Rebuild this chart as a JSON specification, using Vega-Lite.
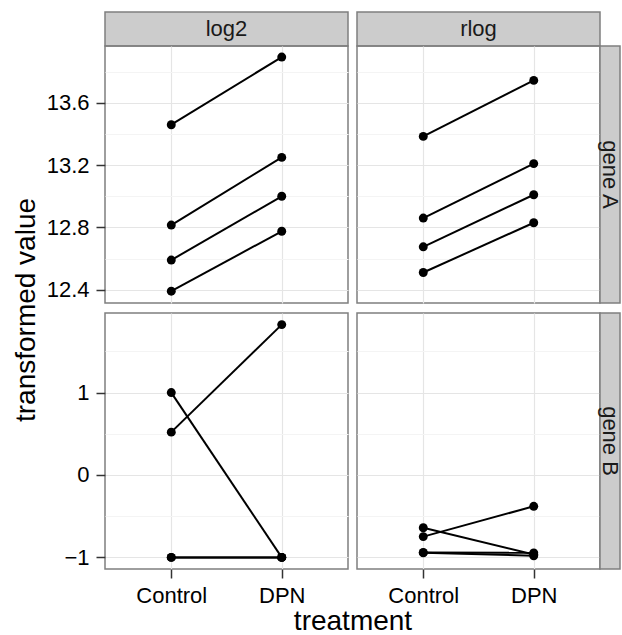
{
  "$schema": "https://vega.github.io/schema/vega-lite/v6.json",
  "autosize": {"type": "pad"},
  "padding": {"left": 11, "top": 11, "right": 3, "bottom": 0},
  "background": "white",
  "config": {
    "font": "Liberation Sans",
    "view": {"stroke": "#7f7f7f", "strokeWidth": 1.5},
    "axis": {
      "labelFont": "Liberation Sans", "labelFontSize": 22, "labelColor": "#000000", "labelPadding": 7,
      "tickSize": 9, "tickColor": "#333333", "tickWidth": 1.5, "domain": false,
      "gridColor": "#e5e5e5", "gridWidth": 1.2,
      "titleFont": "Liberation Sans", "titleFontSize": 28, "titleFontWeight": "normal", "titleColor": "#000000"
    }
  },
  "datasets": {
    "d": [
      {"gene": "gene A", "method": "log2", "sample": "s1", "treatment": "Control", "value": 13.46},
      {"gene": "gene A", "method": "log2", "sample": "s1", "treatment": "DPN", "value": 13.895},
      {"gene": "gene A", "method": "log2", "sample": "s2", "treatment": "Control", "value": 12.815},
      {"gene": "gene A", "method": "log2", "sample": "s2", "treatment": "DPN", "value": 13.25},
      {"gene": "gene A", "method": "log2", "sample": "s3", "treatment": "Control", "value": 12.59},
      {"gene": "gene A", "method": "log2", "sample": "s3", "treatment": "DPN", "value": 13.0},
      {"gene": "gene A", "method": "log2", "sample": "s4", "treatment": "Control", "value": 12.39},
      {"gene": "gene A", "method": "log2", "sample": "s4", "treatment": "DPN", "value": 12.775},
      {"gene": "gene A", "method": "rlog", "sample": "s1", "treatment": "Control", "value": 13.385},
      {"gene": "gene A", "method": "rlog", "sample": "s1", "treatment": "DPN", "value": 13.745},
      {"gene": "gene A", "method": "rlog", "sample": "s2", "treatment": "Control", "value": 12.86},
      {"gene": "gene A", "method": "rlog", "sample": "s2", "treatment": "DPN", "value": 13.21},
      {"gene": "gene A", "method": "rlog", "sample": "s3", "treatment": "Control", "value": 12.675},
      {"gene": "gene A", "method": "rlog", "sample": "s3", "treatment": "DPN", "value": 13.01},
      {"gene": "gene A", "method": "rlog", "sample": "s4", "treatment": "Control", "value": 12.51},
      {"gene": "gene A", "method": "rlog", "sample": "s4", "treatment": "DPN", "value": 12.83},
      {"gene": "gene B", "method": "log2", "sample": "s1", "treatment": "Control", "value": 0.52},
      {"gene": "gene B", "method": "log2", "sample": "s1", "treatment": "DPN", "value": 1.825},
      {"gene": "gene B", "method": "log2", "sample": "s2", "treatment": "Control", "value": 1.0},
      {"gene": "gene B", "method": "log2", "sample": "s2", "treatment": "DPN", "value": -1.0},
      {"gene": "gene B", "method": "log2", "sample": "s3", "treatment": "Control", "value": -1.0},
      {"gene": "gene B", "method": "log2", "sample": "s3", "treatment": "DPN", "value": -1.0},
      {"gene": "gene B", "method": "log2", "sample": "s4", "treatment": "Control", "value": -1.0},
      {"gene": "gene B", "method": "log2", "sample": "s4", "treatment": "DPN", "value": -1.0},
      {"gene": "gene B", "method": "rlog", "sample": "s1", "treatment": "Control", "value": -0.748},
      {"gene": "gene B", "method": "rlog", "sample": "s1", "treatment": "DPN", "value": -0.38},
      {"gene": "gene B", "method": "rlog", "sample": "s2", "treatment": "Control", "value": -0.64},
      {"gene": "gene B", "method": "rlog", "sample": "s2", "treatment": "DPN", "value": -0.965},
      {"gene": "gene B", "method": "rlog", "sample": "s3", "treatment": "Control", "value": -0.94},
      {"gene": "gene B", "method": "rlog", "sample": "s3", "treatment": "DPN", "value": -0.945},
      {"gene": "gene B", "method": "rlog", "sample": "s4", "treatment": "Control", "value": -0.945},
      {"gene": "gene B", "method": "rlog", "sample": "s4", "treatment": "DPN", "value": -0.98}
    ]
  },
  "columns": 4,
  "spacing": 0,
  "bounds": "flush",
  "align": "each",
  "concat": [
    {
      "width": 243, "height": 34,
      "view": {"fill": "#cccccc", "stroke": "#7f7f7f", "strokeWidth": 1.5},
      "data": {"values": [{"label": "log2"}]},
      "mark": {"type": "text", "fontSize": 22, "color": "#1a1a1a", "font": "Liberation Sans"},
      "encoding": {"text": {"field": "label", "type": "nominal"}}
    },
    {"width": 9, "height": 34, "view": {"stroke": null}, "data": {"values": []}, "mark": "point"},
    {
      "width": 243, "height": 34,
      "view": {"fill": "#cccccc", "stroke": "#7f7f7f", "strokeWidth": 1.5},
      "data": {"values": [{"label": "rlog"}]},
      "mark": {"type": "text", "fontSize": 22, "color": "#1a1a1a", "font": "Liberation Sans"},
      "encoding": {"text": {"field": "label", "type": "nominal"}}
    },
    {"width": 20, "height": 34, "view": {"stroke": null}, "data": {"values": []}, "mark": "point"},

    {
      "width": 243, "height": 257,
      "data": {"name": "d"},
      "transform": [{"filter": "datum.gene === 'gene A' && datum.method === 'log2'"}],
      "encoding": {
        "x": {"field": "treatment", "type": "nominal", "scale": {"type": "point", "padding": 0.6, "domain": ["Control", "DPN"]},
              "axis": {"title": null, "labels": false, "ticks": false, "grid": true}},
        "y": {"field": "value", "type": "quantitative", "scale": {"domain": [12.314, 13.966], "nice": false, "zero": false},
              "axis": {
                "title": "transformed value", "titleX": -71, "titleY": 263.5, "titleAlign": "center", "titleBaseline": "alphabetic", "titleAngle": -90,
                "values": [12.4, 12.6, 12.8, 13.0, 13.2, 13.4, 13.6, 13.8], "format": ".1f",
                "labelExpr": "indexof([12.4, 12.8, 13.2, 13.6], datum.value) >= 0 ? datum.label : ''",
                "tickColor": {"condition": {"test": "indexof([12.4, 12.8, 13.2, 13.6], datum.value) >= 0", "value": "#333333"}, "value": "transparent"},
                "gridColor": {"condition": {"test": "indexof([12.4, 12.8, 13.2, 13.6], datum.value) >= 0", "value": "#e5e5e5"}, "value": "#f4f4f4"}
              }},
        "detail": {"field": "sample", "type": "nominal"}
      },
      "layer": [
        {"mark": {"type": "line", "color": "#000000", "strokeWidth": 2}},
        {"mark": {"type": "point", "filled": true, "color": "#000000", "opacity": 1, "size": 80}}
      ]
    },
    {"width": 9, "height": 257, "view": {"stroke": null}, "data": {"values": []}, "mark": "point"},
    {
      "width": 243, "height": 257,
      "data": {"name": "d"},
      "transform": [{"filter": "datum.gene === 'gene A' && datum.method === 'rlog'"}],
      "encoding": {
        "x": {"field": "treatment", "type": "nominal", "scale": {"type": "point", "padding": 0.6, "domain": ["Control", "DPN"]},
              "axis": {"title": null, "labels": false, "ticks": false, "grid": true}},
        "y": {"field": "value", "type": "quantitative", "scale": {"domain": [12.314, 13.966], "nice": false, "zero": false},
              "axis": {
                "title": null, "labels": false, "ticks": false,
                "values": [12.4, 12.6, 12.8, 13.0, 13.2, 13.4, 13.6, 13.8],
                "gridColor": {"condition": {"test": "indexof([12.4, 12.8, 13.2, 13.6], datum.value) >= 0", "value": "#e5e5e5"}, "value": "#f4f4f4"}
              }},
        "detail": {"field": "sample", "type": "nominal"}
      },
      "layer": [
        {"mark": {"type": "line", "color": "#000000", "strokeWidth": 2}},
        {"mark": {"type": "point", "filled": true, "color": "#000000", "opacity": 1, "size": 80}}
      ]
    },
    {
      "width": 20, "height": 257,
      "view": {"fill": "#cccccc", "stroke": "#7f7f7f", "strokeWidth": 1.5},
      "data": {"values": [{"label": "gene A"}]},
      "mark": {"type": "text", "fontSize": 22, "color": "#1a1a1a", "angle": 90, "font": "Liberation Sans"},
      "encoding": {"text": {"field": "label", "type": "nominal"}}
    },

    {"width": 243, "height": 10, "view": {"stroke": null}, "data": {"values": []}, "mark": "point"},
    {"width": 9, "height": 10, "view": {"stroke": null}, "data": {"values": []}, "mark": "point"},
    {"width": 243, "height": 10, "view": {"stroke": null}, "data": {"values": []}, "mark": "point"},
    {"width": 20, "height": 10, "view": {"stroke": null}, "data": {"values": []}, "mark": "point"},

    {
      "width": 243, "height": 256,
      "data": {"name": "d"},
      "transform": [{"filter": "datum.gene === 'gene B' && datum.method === 'log2'"}],
      "encoding": {
        "x": {"field": "treatment", "type": "nominal", "scale": {"type": "point", "padding": 0.6, "domain": ["Control", "DPN"]},
              "axis": {"title": "treatment", "titleX": 247.5, "titleY": 60, "titleAlign": "center", "titleBaseline": "alphabetic", "labelAngle": 0, "grid": true}},
        "y": {"field": "value", "type": "quantitative", "scale": {"domain": [-1.141, 1.966], "nice": false, "zero": false},
              "axis": {
                "title": null,
                "values": [-1, -0.5, 0, 0.5, 1, 1.5], "format": ".0f",
                "labelExpr": "indexof([-1, 0, 1], datum.value) >= 0 ? datum.label : ''",
                "tickColor": {"condition": {"test": "indexof([-1, 0, 1], datum.value) >= 0", "value": "#333333"}, "value": "transparent"},
                "gridColor": {"condition": {"test": "indexof([-1, 0, 1], datum.value) >= 0", "value": "#e5e5e5"}, "value": "#f4f4f4"}
              }},
        "detail": {"field": "sample", "type": "nominal"}
      },
      "layer": [
        {"mark": {"type": "line", "color": "#000000", "strokeWidth": 2}},
        {"mark": {"type": "point", "filled": true, "color": "#000000", "opacity": 1, "size": 80}}
      ]
    },
    {"width": 9, "height": 256, "view": {"stroke": null}, "data": {"values": []}, "mark": "point"},
    {
      "width": 243, "height": 256,
      "data": {"name": "d"},
      "transform": [{"filter": "datum.gene === 'gene B' && datum.method === 'rlog'"}],
      "encoding": {
        "x": {"field": "treatment", "type": "nominal", "scale": {"type": "point", "padding": 0.6, "domain": ["Control", "DPN"]},
              "axis": {"title": null, "labelAngle": 0, "grid": true}},
        "y": {"field": "value", "type": "quantitative", "scale": {"domain": [-1.141, 1.966], "nice": false, "zero": false},
              "axis": {
                "title": null, "labels": false, "ticks": false,
                "values": [-1, -0.5, 0, 0.5, 1, 1.5],
                "gridColor": {"condition": {"test": "indexof([-1, 0, 1], datum.value) >= 0", "value": "#e5e5e5"}, "value": "#f4f4f4"}
              }},
        "detail": {"field": "sample", "type": "nominal"}
      },
      "layer": [
        {"mark": {"type": "line", "color": "#000000", "strokeWidth": 2}},
        {"mark": {"type": "point", "filled": true, "color": "#000000", "opacity": 1, "size": 80}}
      ]
    },
    {
      "width": 20, "height": 256,
      "view": {"fill": "#cccccc", "stroke": "#7f7f7f", "strokeWidth": 1.5},
      "data": {"values": [{"label": "gene B"}]},
      "mark": {"type": "text", "fontSize": 22, "color": "#1a1a1a", "angle": 90, "font": "Liberation Sans"},
      "encoding": {"text": {"field": "label", "type": "nominal"}}
    }
  ]
}
